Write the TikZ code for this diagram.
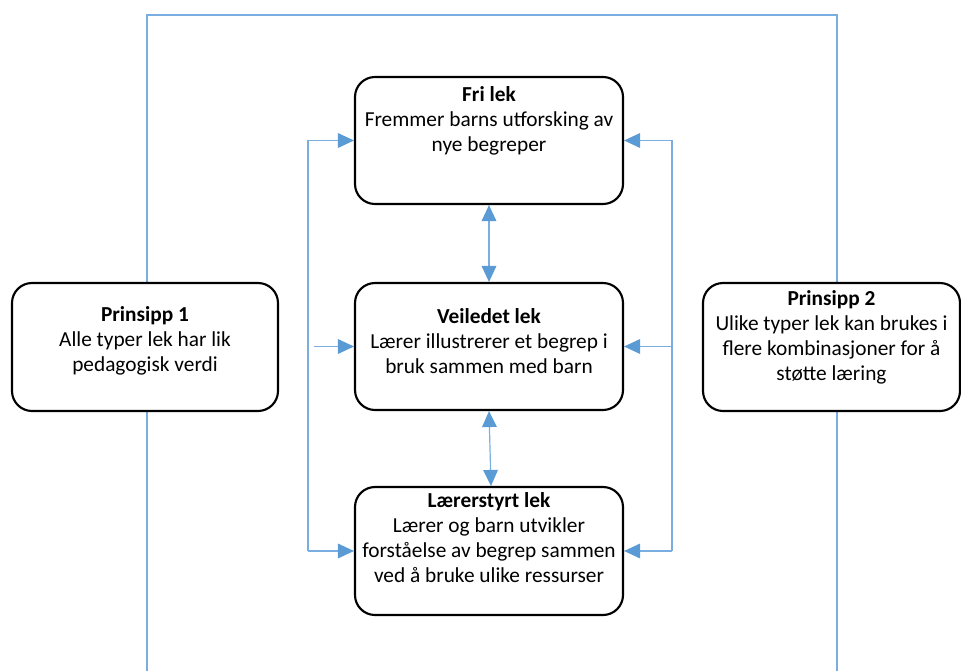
\documentclass[tikz,border=0pt]{standalone}
\usepackage{fontspec}
\setmainfont{Carlito}
\usepackage{tikz}
\usetikzlibrary{arrows.meta}
\pgfdeclarelayer{background}
\pgfdeclarelayer{foreground}
\pgfsetlayers{background,main,foreground}
\definecolor{lekblue}{HTML}{5B9BD5}
\definecolor{lekline}{HTML}{7AAEE0}
\tikzset{
  lekbox/.style={draw=black, line width=1.6pt, rounded corners=15pt, fill=white, inner sep=0pt},
  lektext/.style={align=center, inner sep=0pt, font=\fontsize{16}{18.8}\selectfont},
  lekarrow/.style={draw=lekline, line width=0.9pt, -{Triangle[length=12pt,width=11pt,fill=lekblue,color=lekblue]}},
  lekboth/.style={draw=lekline, line width=0.9pt, {Triangle[length=12pt,width=11pt,fill=lekblue,color=lekblue]}-{Triangle[length=12pt,width=11pt,fill=lekblue,color=lekblue]}},
  lekframe/.style={draw=lekline, line width=0.9pt}
}
\begin{document}
\begin{tikzpicture}[x=0.75pt,y=-0.75pt]
\useasboundingbox (0,0) rectangle (961,671);
\begin{pgfonlayer}{foreground}
% boxes
\node[lekbox, minimum width=201pt, minimum height=95.25pt] (fri) at (489,140.5) {};
\node[lekbox, minimum width=201pt, minimum height=95.25pt] (veil) at (489,346.5) {};
\node[lekbox, minimum width=201pt, minimum height=96pt] (styrt) at (489,551) {};
\node[lekbox, minimum width=199.5pt, minimum height=96pt] (p1) at (145,347) {};
\node[lekbox, minimum width=192.75pt, minimum height=96pt] (p2) at (831.5,347) {};
% texts
\node[lektext] (fri-t) at (489,121) {\textbf{Fri lek}\\Fremmer barns utforsking av\\nye begreper};
\node[lektext] (veil-t) at (489,341) {\textbf{Veiledet lek}\\Lærer illustrerer et begrep i\\bruk sammen med barn};
\node[lektext] (styrt-t) at (489,537.5) {\textbf{Lærerstyrt lek}\\Lærer og barn utvikler\\forståelse av begrep sammen\\ved å bruke ulike ressurser};
\node[lektext] (p1-t) at (145,341) {\textbf{Prinsipp 1}\\Alle typer lek har lik\\pedagogisk verdi};
\node[lektext] (p2-t) at (831.5,337) {\textbf{Prinsipp 2}\\Ulike typer lek kan brukes i\\flere kombinasjoner for å\\støtte læring};
\end{pgfonlayer}
\begin{pgfonlayer}{background}
\coordinate (fl) at (147,15);
\coordinate (fr) at (837,15);
\coordinate (bl) at (147,671);
\coordinate (br) at (837,671);
\coordinate (lx) at (308,0);
\coordinate (rx) at (672,0);
\coordinate (vl) at (314,346.5);
% frame round the principles
\draw[lekframe] (p1.north -| fl) -- (fl) -- (fr) -- (p2.north -| fr);
\draw[lekframe] (p1.south -| fl) -- (bl);
\draw[lekframe] (p2.south -| fr) -- (br);
% left side
\draw[lekarrow] (styrt.west -| lx) -- (fri.west -| lx) -- (fri.west);
\draw[lekarrow] (styrt.west -| lx) -- (styrt.west);
\draw[lekarrow] (vl) -- (veil.west);
% right side
\draw[lekarrow] (styrt.east -| rx) -- (fri.east -| rx) -- (fri.east);
\draw[lekarrow] (veil.east -| rx) -- (veil.east);
\draw[lekarrow] (styrt.east -| rx) -- (styrt.east);
% middle
\draw[lekboth] (fri.south) -- (veil.north);
\draw[lekboth] (veil.south) -- ([xshift=1.5pt]styrt.north);
\end{pgfonlayer}
\end{tikzpicture}
\end{document}
